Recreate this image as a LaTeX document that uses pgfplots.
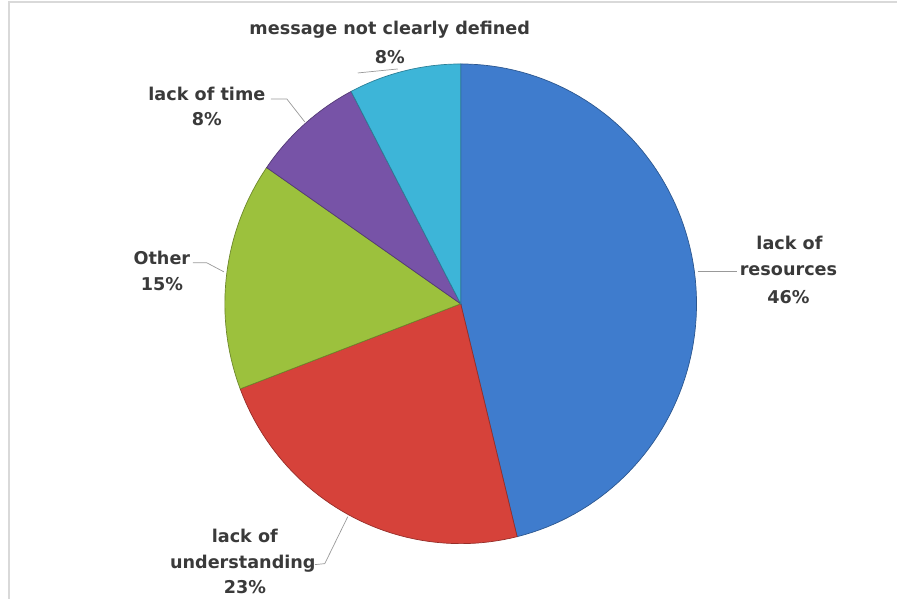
\documentclass[border=0pt]{standalone}
\usepackage{pgfplots}
\pgfplotsset{compat=1.18}
\usepackage{fontspec}
\setmainfont{DejaVu Sans}
\definecolor{pblue}{HTML}{3F7CCD}
\definecolor{pred}{HTML}{D6423A}
\definecolor{pgreen}{HTML}{9CC13D}
\definecolor{ppurple}{HTML}{7753A7}
\definecolor{pcyan}{HTML}{3DB5D8}
\definecolor{txt}{HTML}{3A3A3A}
\tikzset{lbl/.style={font=\bfseries\fontsize{17.7}{20}\selectfont, text=txt, inner sep=0pt, anchor=center}}
% slice counts (percentages 46, 23, 15, 8, 8)
\def\vA{6}\def\vB{3}\def\vC{2}\def\vD{1}\def\vE{1}
\pgfmathsetmacro\tot{\vA+\vB+\vC+\vD+\vE}
\pgfmathsetmacro\aA{90}
\pgfmathsetmacro\aB{\aA-360*\vA/\tot}
\pgfmathsetmacro\aC{\aB-360*\vB/\tot}
\pgfmathsetmacro\aD{\aC-360*\vC/\tot}
\pgfmathsetmacro\aE{\aD-360*\vD/\tot}
\pgfmathsetmacro\aF{\aE-360*\vE/\tot}
\begin{document}
\begin{tikzpicture}
\begin{axis}[width=898bp, height=599bp, scale only axis,
  xmin=0, xmax=898, ymin=0, ymax=599, y dir=reverse,
  axis lines=none, clip=false]
\path (axis cs:0,0) rectangle (axis cs:898,599);
\draw[black!15, line width=1.2pt] (axis cs:9,599) -- (axis cs:9,2) -- (axis cs:898,2);
\addplot[fill=pblue, draw=pblue!70!black, line width=0.7pt, domain=\aB:\aA, samples=90, variable=\t]
  ({461+236*cos(t)},{304-240*sin(t)}) -- (axis cs:461,304) -- cycle;
\addplot[fill=pred, draw=pred!70!black, line width=0.7pt, domain=\aC:\aB, samples=50, variable=\t]
  ({461+236*cos(t)},{304-240*sin(t)}) -- (axis cs:461,304) -- cycle;
\addplot[fill=pgreen, draw=pgreen!70!black, line width=0.7pt, domain=\aD:\aC, samples=40, variable=\t]
  ({461+236*cos(t)},{304-240*sin(t)}) -- (axis cs:461,304) -- cycle;
\addplot[fill=ppurple, draw=ppurple!70!black, line width=0.7pt, domain=\aE:\aD, samples=25, variable=\t]
  ({461+236*cos(t)},{304-240*sin(t)}) -- (axis cs:461,304) -- cycle;
\addplot[fill=pcyan, draw=pcyan!70!black, line width=0.7pt, domain=\aF:\aE, samples=25, variable=\t]
  ({461+236*cos(t)},{304-240*sin(t)}) -- (axis cs:461,304) -- cycle;
% leader lines
\draw[black!40, line width=0.7pt] (axis cs:358,73) -- (axis cs:398,69);
\draw[black!40, line width=0.7pt] (axis cs:271,99) -- (axis cs:287,99) -- (axis cs:305,122);
\draw[black!40, line width=0.7pt] (axis cs:193,263) -- (axis cs:207,263) -- (axis cs:224,272);
\draw[black!40, line width=0.7pt] (axis cs:315,565) -- (axis cs:325,564) -- (axis cs:348,517);
\draw[black!40, line width=0.7pt] (axis cs:698,272) -- (axis cs:737,272);
% labels
\node[lbl] at (axis cs:390,30) {message not clearly defined};
\node[lbl] at (axis cs:390,57) {8\%};
\node[lbl] at (axis cs:207,94) {lack of time};
\node[lbl] at (axis cs:207,119) {8\%};
\node[lbl] at (axis cs:162,258) {Other};
\node[lbl] at (axis cs:162,284) {15\%};
\node[lbl] at (axis cs:245,536) {lack of};
\node[lbl] at (axis cs:243,564) {understanding};
\node[lbl] at (axis cs:245,587) {23\%};
\node[lbl] at (axis cs:790,243) {lack of};
\node[lbl] at (axis cs:789,271) {resources};
\node[lbl] at (axis cs:789,297) {46\%};
\end{axis}
\end{tikzpicture}
\end{document}
